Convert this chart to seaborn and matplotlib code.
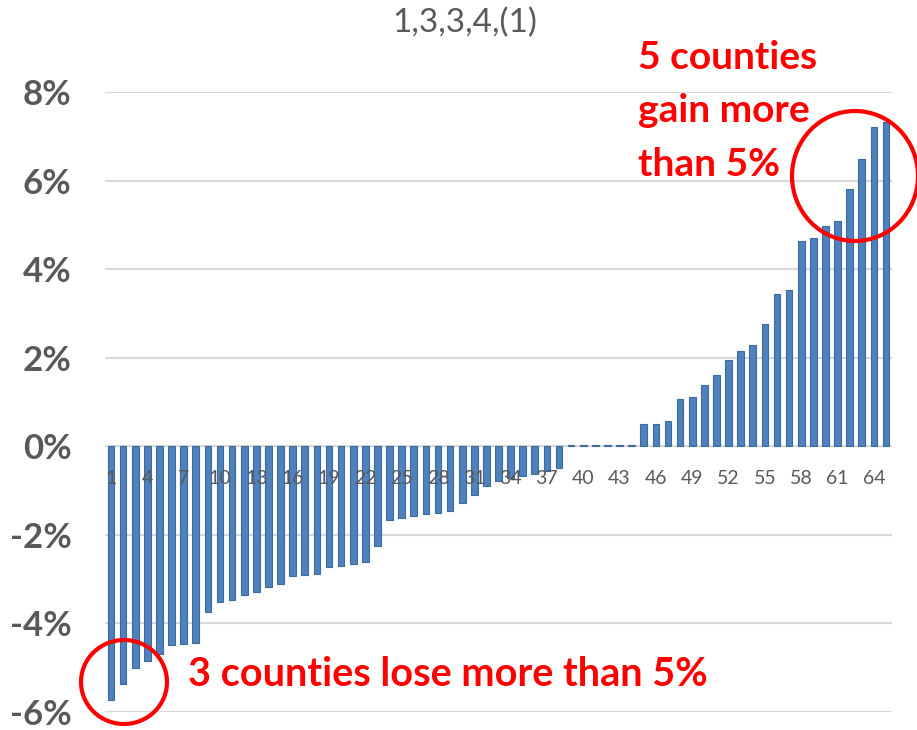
import numpy as np
import pandas as pd
import seaborn as sns
import matplotlib.pyplot as plt
from matplotlib.patches import Ellipse

# county rank 1..65, percent change
county_rank = list(range(1, 66))
pct_change = [
    -5.72, -5.36, -5.01, -4.85, -4.70, -4.48, -4.47, -4.45, -3.74, -3.52,
    -3.46, -3.36, -3.28, -3.18, -3.12, -2.94, -2.91, -2.88, -2.73, -2.71,
    -2.66, -2.61, -2.26, -1.66, -1.63, -1.58, -1.54, -1.51, -1.45, -1.28,
    -1.09, -0.90, -0.79, -0.71, -0.68, -0.62, -0.55, -0.50, 0.02, 0.02,
    0.02, 0.02, 0.02, 0.02, 0.51, 0.51, 0.56, 1.07, 1.11, 1.38,
    1.62, 1.94, 2.16, 2.29, 2.76, 3.44, 3.52, 4.64, 4.71, 4.98,
    5.09, 5.81, 6.49, 7.22, 7.32,
]
x_labels = [str(n) for n in range(1, 66, 3)]
y_ticks = [-6, -4, -2, 0, 2, 4, 6, 8]
title = "1,3,3,4,(1)"

data = pd.DataFrame({"rank": [str(r) for r in county_rank], "pct": pct_change})

sns.set_theme(style="white")
plt.rcParams["font.family"] = ["Lato", "DejaVu Sans"]

fig = plt.figure(figsize=(9.17, 7.30), dpi=100)
ax = fig.add_axes([105 / 917, 1 - 712 / 730, (892 - 105) / 917, (712 - 92) / 730])

sns.barplot(data=data, x="rank", y="pct", color="#4F81BD", saturation=1,
            width=0.55, edgecolor="#3B6A9F", linewidth=0.8, ax=ax, zorder=3)

ax.set_xlim(-0.5, 64.5)
ax.set_ylim(-6, 8)
ax.set_yticks(y_ticks)
ax.set_yticklabels([f"{t}%" for t in y_ticks], fontsize=25, fontweight="bold",
                   color="#595959")
ax.tick_params(axis="y", length=0, pad=24)
ax.set_xticks([])
ax.set_xlabel("")
ax.set_ylabel("")
for s in ax.spines.values():
    s.set_visible(False)
ax.yaxis.grid(True, color="#D9D9D9", linewidth=1.5)
ax.set_axisbelow(True)

# category labels sit just under the zero line, every third county
for lab in x_labels:
    ax.annotate(lab, (int(lab) - 1, 0), xytext=(0, -23), textcoords="offset points",
                ha="center", va="center", fontsize=14, color="#595959", zorder=5)

fig.text(465 / 917, 1 - 23 / 730, title, ha="center", va="center",
         fontsize=24, color="#595959")

fig.text(638 / 917, 1 - 111 / 730, "5 counties\ngain more\nthan 5%", ha="left",
         va="center", fontsize=28, fontweight="bold", color="#FF0000", linespacing=1.63)
fig.text(188 / 917, 1 - 675 / 730, "3 counties lose more than 5%", ha="left",
         va="center", fontsize=28.5, fontweight="bold", color="#FF0000")

fig.add_artist(Ellipse((855 / 917, 1 - 176 / 730), 126 / 917, 130 / 730,
                       transform=fig.transFigure, fill=False, edgecolor="#FF0000", linewidth=3))
fig.add_artist(Ellipse((124 / 917, 1 - 682 / 730), 86 / 917, 84 / 730,
                       transform=fig.transFigure, fill=False, edgecolor="#FF0000", linewidth=3))

fig.savefig("out.png", dpi=100)
